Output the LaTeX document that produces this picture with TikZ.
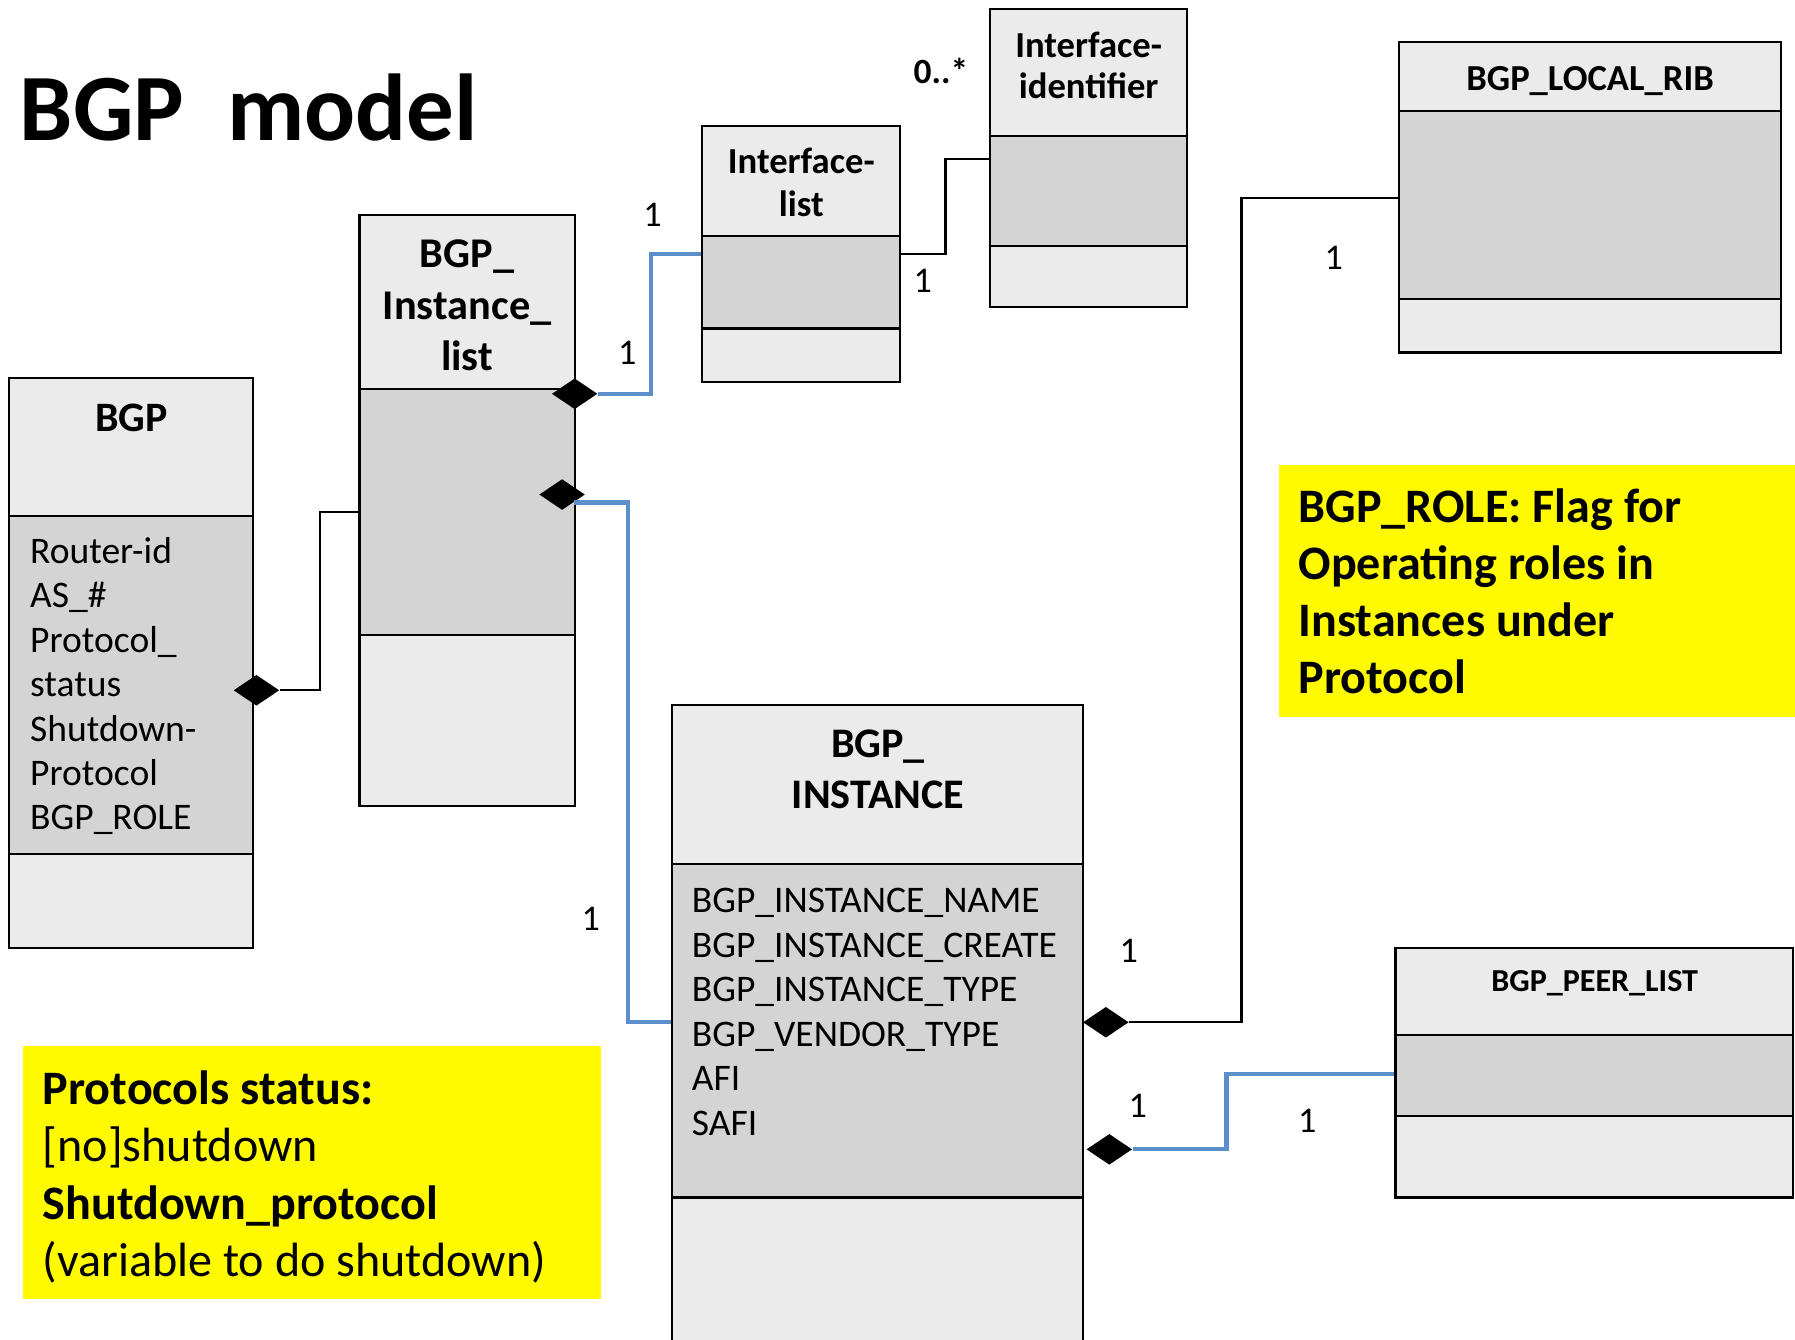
\documentclass[tikz,border=0pt]{standalone}
\usepackage{fontspec}
\setmainfont{Carlito}
\usetikzlibrary{shapes.geometric,fit}
\definecolor{hdrfill}{HTML}{EBEBEB}
\definecolor{attrfill}{HTML}{D4D4D4}
\definecolor{linkblue}{HTML}{5B8FCB}
\definecolor{noteyellow}{HTML}{FFFA00}
\newcommand\fsz[2]{\fontsize{#1}{#2}\selectfont}
\newcommand\umlclass[7]{%
  \fill[hdrfill] (#2,#3) rectangle (#4,#6);
  \fill[attrfill] (#2,#6) rectangle (#4,#7);
  \fill[hdrfill] (#2,#7) rectangle (#4,#5);
  \draw[boxline] (#2,#6) -- (#4,#6) (#2,#7) -- (#4,#7);
  \node[fit={(#2,#3) (#4,#5)}, inner sep=0pt, draw, boxline] (#1) {};
}
% note: for multi-line nodes the base anchor is the baseline of the LAST line
\tikzset{
  boxline/.style={line width=1pt, black},
  hdrtext/.style={anchor=base, inner sep=0pt, align=center},
  attrtext/.style={anchor=base west, inner sep=0pt, align=left, font=\fsz{16.4}{19.5}},
  notetext/.style={anchor=base west, inner sep=0pt, align=left, font=\fsz{21}{25}},
  lbl/.style={inner sep=0pt, font=\fsz{15.8}{18}},
  dia/.style={diamond, fill=black, inner sep=0pt, minimum width=20pt, minimum height=13.5pt},
  kline/.style={line width=1pt, black},
  bline/.style={line width=1.8pt, linkblue},
}
\begin{document}
\begin{tikzpicture}[x=0.5pt, y=-0.5pt]
\useasboundingbox (0,0) rectangle (1568,1170);
\fill[white] (0,0) rectangle (1568,1170);
\begin{scope}
\clip (0,0) rectangle (1568,1170);

% title
\node[anchor=base west, inner sep=0pt, font=\bfseries\fsz{41.5}{50}] (title) at (17,123) {BGP\ \ model};

% yellow notes
\fill[noteyellow] (1117,406) rectangle (1568,626);
\fill[noteyellow] (20,914) rectangle (525,1135);
\node[notetext, font=\bfseries\fsz{21}{25}] (rolenote) at (1134,606)
  {BGP\_ROLE: Flag for\\Operating roles in\\Instances under\\Protocol};
\node[notetext] (statusnote) at (37,1115)
  {\textbf{Protocols status:}\\{}[no]shutdown\\\textbf{Shutdown\_protocol}\\(variable to do shutdown)};

% classes
\umlclass{bgp}{8}{330}{221}{828}{451}{746}
\umlclass{instlist}{314}{188}{502}{704}{340}{555}
\umlclass{iflist}{613}{110}{786}{334}{206}{287}
\umlclass{ifid}{865}{8}{1037}{268}{119}{215}
\umlclass{localrib}{1222}{37}{1556}{308}{97}{261}
\umlclass{inst}{587}{616}{946}{1190}{755}{1046}
\umlclass{peerlist}{1219}{828}{1566}{1046}{904}{975}

% class titles
\node[hdrtext, font=\bfseries\fsz{18.3}{22}] (bgpT) at (115,377) {BGP};
\node[hdrtext, font=\bfseries\fsz{18.5}{22.5}] (instlistT) at (408,324) {BGP\_\\Instance\_\\list};
\node[hdrtext, font=\bfseries\fsz{16}{18.5}] (iflistT) at (700,189) {Interface-\\list};
\node[hdrtext, font=\bfseries\fsz{16}{18}] (ifidT) at (951,86) {Interface-\\identifier};
\node[hdrtext, font=\bfseries\fsz{16}{18}] (localribT) at (1389,79) {BGP\_LOCAL\_RIB};
\node[hdrtext, font=\bfseries\fsz{18.4}{22}] (instT) at (767,706) {BGP\_\\INSTANCE};
\node[hdrtext, font=\bfseries\fsz{14}{16}] (peerlistT) at (1393,866) {BGP\_PEER\_LIST};

% attributes
\node[attrtext, font=\fsz{16.4}{19.4}] (bgpA) at (26,725)
  {Router-id\\AS\_\#\\Protocol\_\\status\\Shutdown-\\Protocol\\BGP\_ROLE};
\node[attrtext] (instA) at (604,992)
  {BGP\_INSTANCE\_NAME\\BGP\_INSTANCE\_CREATE\\BGP\_INSTANCE\_TYPE\\BGP\_VENDOR\_TYPE\\AFI\\SAFI};

% diamonds
\node[dia] (d1) at (224,603) {};
\node[dia] (d2) at (502,344) {};
\node[dia] (d3) at (491,432) {};
\node[dia] (d5) at (966,893) {};
\node[dia] (d6) at (969,1004) {};

% connectors
\draw[kline] (d1.east) -- ++(35,0) |- (instlist.west |- 0,447);
\draw[bline] (d2.east) -- ++(46,0) |- (iflist.west |- 0,222);
\draw[bline] (d3.south east) -- ++(47,0) |- (inst.west |- 0,893);
\draw[kline] (iflist.east |- 0,222) -- ++(39,0) |- (ifid.west |- 0,139);
\draw[kline] (d5.east) -- ++(98,0) |- (localrib.west |- 0,173);
\draw[bline] (d6.east) -- ++(82,0) |- (peerlist.west |- 0,938);

% multiplicities
\node[lbl] (m1) at (548,308) {1};
\node[lbl] (m2) at (570,188) {1};
\node[lbl] (m3) at (516,803) {1};
\node[lbl] (m4) at (806,245) {1};
\node[lbl, font=\bfseries\fsz{15.5}{18}] (m5) at (822,62) {0..*};
\node[lbl] (m6) at (986,831) {1};
\node[lbl] (m7) at (1165,225) {1};
\node[lbl] (m8) at (994,966) {1};
\node[lbl] (m9) at (1142,979) {1};
\end{scope}
\end{tikzpicture}
\end{document}
